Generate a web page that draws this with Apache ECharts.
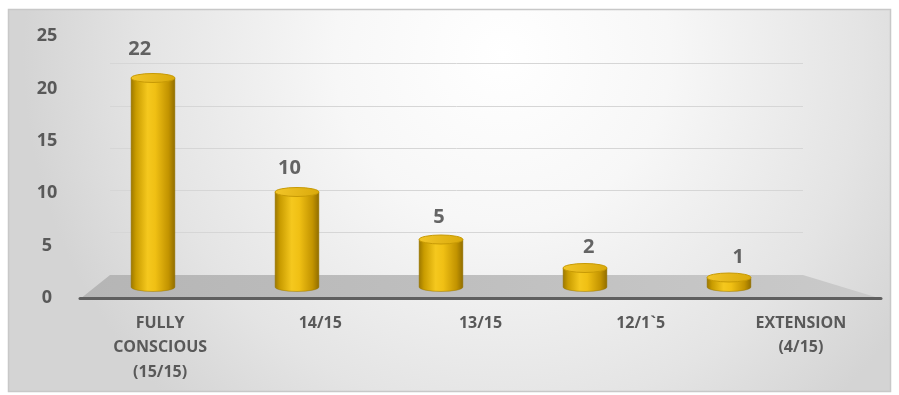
<!DOCTYPE html>
<html>
<head>
<meta charset="utf-8">
<script src="https://cdn.jsdelivr.net/npm/echarts@6/dist/echarts.min.js"></script>
<style>
  html, body { margin: 0; padding: 0; background: #ffffff; }
  #chart { width: 899px; height: 395px; }
</style>
</head>
<body>
<div id="chart"></div>
<script>
// GCS groups and number of patients in each
const categories = ['FULLY\nCONSCIOUS\n(15/15)', '14/15', '13/15', '12/1`5', 'EXTENSION\n(4/15)'];
const patientCounts = [22, 10, 5, 2, 1];
const valueTicks = [0, 5, 10, 15, 20, 25];

const W = 899, H = 395;
const yMin = valueTicks[0];
const yMax = valueTicks[valueTicks.length - 1];
const yStep = valueTicks[1] - valueTicks[0];

// 3D-ish layout: front plane (labels), back wall (grid lines), bar plane, value-label plane
const FRONT = { left: 80, right: 881, top: 36, base: 298 };
const BACK = { left: 110, right: 803, top: 63.5, base: 275 };
const BARS = { left: 81, right: 801, top: 49.5, base: 287 };
const TAGS = { left: 65, right: 813, top: 19.5, base: 267 };

function gridOf(p) {
  return { left: p.left, right: W - p.right, top: p.top, bottom: H - p.base, containLabel: false };
}

const FONT = '"Open Sans", "Noto Sans", sans-serif';

function hiddenCat(gridIndex) {
  return { type: 'category', gridIndex, data: categories, boundaryGap: true, show: false };
}
function valueAxis(gridIndex, extra) {
  return Object.assign({ type: 'value', gridIndex, min: yMin, max: yMax, interval: yStep }, extra);
}

// Golden cylinder drawn from the bar plane's scales
function renderCylinder(params, api) {
  const idx = api.value(0);
  const val = api.value(1);
  const topPt = api.coord([idx, val]);
  const basePt = api.coord([idx, 0]);
  const band = api.size([1, 0])[0];
  const rx = band * 0.152;
  const ry = 4.5;
  const cx = topPt[0];
  const x1 = cx - rx, x2 = cx + rx;
  const yt = topPt[1], yb = basePt[1];
  const body = 'M' + x1 + ' ' + yt + ' L' + x1 + ' ' + yb +
    ' A' + rx + ' ' + ry + ' 0 0 0 ' + x2 + ' ' + yb +
    ' L' + x2 + ' ' + yt + ' Z';
  const cap = 'M' + x1 + ' ' + yt +
    ' A' + rx + ' ' + ry + ' 0 1 0 ' + x2 + ' ' + yt +
    ' A' + rx + ' ' + ry + ' 0 1 0 ' + x1 + ' ' + yt + ' Z';
  return {
    type: 'group',
    children: [
      {
        type: 'path',
        shape: { pathData: body },
        style: {
          fill: {
            type: 'linear', x: 0, y: 0, x2: 1, y2: 0,
            colorStops: [
              { offset: 0, color: '#9a7600' },
              { offset: 0.12, color: '#c99c00' },
              { offset: 0.38, color: '#f5c81e' },
              { offset: 0.55, color: '#f0c014' },
              { offset: 0.85, color: '#c29300' },
              { offset: 1, color: '#8f6c00' }
            ]
          },
          stroke: 'rgba(150,115,0,0.6)',
          lineWidth: 0.8
        }
      },
      {
        type: 'path',
        shape: { pathData: cap },
        style: {
          fill: {
            type: 'linear', x: 0, y: 0, x2: 1, y2: 1,
            colorStops: [
              { offset: 0, color: '#f3c629' },
              { offset: 1, color: '#d9a90a' }
            ]
          },
          stroke: '#c79a05',
          lineWidth: 1
        }
      }
    ]
  };
}

const chart = echarts.init(document.getElementById('chart'), null, { renderer: 'canvas' });

chart.setOption({
  animation: false,
  backgroundColor: '#ffffff',
  graphic: [
    {
      type: 'rect', z: -10, silent: true,
      shape: { x: 8.5, y: 9.5, width: 882, height: 382 },
      style: {
        fill: {
          type: 'radial', x: 0.56, y: 0.12, r: 1.25,
          colorStops: [
            { offset: 0, color: '#ffffff' },
            { offset: 0.35, color: '#f7f7f7' },
            { offset: 0.75, color: '#e4e4e4' },
            { offset: 1, color: '#d4d4d4' }
          ]
        },
        stroke: '#c8c8c8',
        lineWidth: 1.5
      }
    },
    {
      // floor of the chart
      type: 'polygon', z: 1, silent: true,
      shape: {
        points: [
          [FRONT.left, FRONT.base + 1],
          [FRONT.right + 1, FRONT.base + 1],
          [BACK.right, BACK.base],
          [BACK.left, BACK.base]
        ]
      },
      style: {
        fill: {
          type: 'linear', x: 0, y: 0, x2: 1, y2: 0,
          colorStops: [
            { offset: 0, color: '#b5b5b5' },
            { offset: 1, color: '#cacaca' }
          ]
        }
      }
    }
  ],
  grid: [gridOf(FRONT), gridOf(BACK), gridOf(BARS), gridOf(TAGS)],
  xAxis: [
    {
      type: 'category', gridIndex: 0, data: categories, boundaryGap: true,
      axisLine: { show: true, lineStyle: { color: '#5f5f5f', width: 3 } },
      axisTick: { show: false },
      axisLabel: {
        margin: 13, interval: 0,
        color: '#595959', fontFamily: FONT, fontWeight: 'bold',
        fontSize: 16, lineHeight: 24.5
      },
      z: 3
    },
    hiddenCat(1), hiddenCat(2), hiddenCat(3)
  ],
  yAxis: [
    valueAxis(0, {
      axisLine: { show: false }, axisTick: { show: false },
      splitLine: { show: false },
      axisLabel: {
        margin: 33, align: 'center',
        color: '#595959', fontFamily: FONT, fontWeight: 'bold', fontSize: 18
      }
    }),
    valueAxis(1, {
      axisLine: { show: false }, axisTick: { show: false }, axisLabel: { show: false },
      splitLine: { show: true, lineStyle: { color: '#d6d6d6', width: 1 } }
    }),
    valueAxis(2, { show: false }),
    valueAxis(3, { show: false })
  ],
  series: [
    {
      type: 'custom', name: 'Patients',
      xAxisIndex: 2, yAxisIndex: 2, z: 5,
      renderItem: renderCylinder,
      encode: { x: 0, y: 1 },
      data: patientCounts.map((v, i) => [i, v])
    },
    {
      type: 'scatter', name: 'Counts',
      xAxisIndex: 3, yAxisIndex: 3, z: 6,
      symbolSize: 1,
      itemStyle: { color: 'rgba(0,0,0,0)' },
      label: {
        show: true, position: 'inside',
        formatter: (p) => String(p.value[1]),
        color: '#404040', fontFamily: FONT, fontWeight: 'bold', fontSize: 20
      },
      data: patientCounts.map((v, i) => [i, v])
    }
  ]
});
</script>
</body>
</html>
